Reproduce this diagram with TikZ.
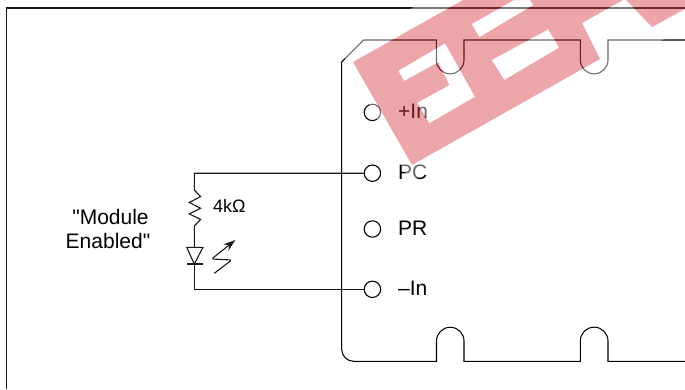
\documentclass[tikz,border=0pt]{standalone}
\usepackage{fontspec}
\setmainfont{Liberation Sans}[Ligatures=TeXOff]
\usetikzlibrary{arrows.meta}
\definecolor{wm}{RGB}{215,58,67}
\tikzset{
  x=1pt,y=-1pt,
  frameline/.style={line width=1.4pt,black!90},
  outline/.style={line width=1.05pt,black},
  wire/.style={line width=1.1pt,black!90},
  pin/.style={circle,draw,line width=1.1pt,minimum size=16.4pt,inner sep=0pt},
  lbl/.style={font=\fontsize{21}{25}\selectfont,inner sep=0pt,anchor=base west,text=black},
  captext/.style={font=\fontsize{21}{24}\selectfont,inner sep=0pt,align=center,text=black},
}
\begin{document}
\begin{tikzpicture}
\useasboundingbox (0,0) rectangle (685,389);
\fill[white] (0,0) rectangle (685,389);
\begin{scope}
\clip (0,0) rectangle (685,389);
% outer frame
\draw[frameline] (6.3,389) -- (6.3,8) -- (685,8);
% module outline
\draw[outline] (685,40) -- (608,40) -- (608,60) arc[start angle=0,end angle=180,radius=13.85] -- (580.3,40)
  -- (464,40) -- (464,60) arc[start angle=0,end angle=180,radius=13.85] -- (436.3,40)
  -- (363.5,40) -- (341.7,62) -- (341.7,349.3) arc[start angle=180,end angle=90,radius=12] -- (436.5,361.3)
  -- (436.5,341) arc[start angle=180,end angle=360,radius=13.75] -- (464,361.3)
  -- (580.3,361.3) -- (580.3,341) arc[start angle=180,end angle=360,radius=13.85] -- (608,361.3) -- (685,361.3);
% pins
\node[pin] (pinA) at (372.4,112.4) {};
\node[pin] (pinB) at (372.4,173.2) {};
\node[pin] (pinC) at (372.4,229) {};
\node[pin] (pinD) at (372.4,289.3) {};
\node[lbl] (lblA) at (398,118.5) {+In};
\node[lbl] (lblB) at (398,179.5) {PC};
\node[lbl] (lblC) at (398,235.5) {PR};
\node[lbl] (lblD) at (398,295.5) {–In};
% circuit
\coordinate (topc) at (194.3,173.2);
\coordinate (botc) at (194.3,289.3);
\coordinate (resT) at (194.3,190);
\coordinate (resB) at (194.3,226);
\coordinate (ledT) at (194.3,247.3);
\coordinate (ledB) at (194.3,264);
\draw[wire] (pinB) -- (topc) -- (resT)
  -- ++(6.3,6.5) -- ++(-11.3,6) -- ++(11.3,5.7) -- ++(-11.3,5.7) -- ++(11.3,5.6) -- (resB) -- (ledT);
\draw[wire] (pinD) -- (botc) -- (ledB);
\draw[wire,line join=miter] (186.7,247.3) -- (203,247.3) -- (ledB) -- cycle;
\draw[wire] (186.7,264) -- (203,264);
\draw[wire,rounded corners=1.5pt,-{Stealth[length=12pt,width=8pt]}] (214.3,273.3) -- (231.7,260) -- (211.7,259) -- (235.3,240);
\node[font=\fontsize{18}{20}\selectfont,inner sep=0pt,anchor=base west] (resv) at (213,212) {4kΩ};
\node[captext] (capt) at (110.5,229.3) {"Module\\\mbox{Enabled"\kern5pt}};
% translucent white halo (only outside the red shape) and watermark
\fill[white,fill opacity=0.42,even odd rule]
  (340,48.6) -- (412,8) -- (440,-8) -- (730,-8) -- (730,15) -- (662,40) -- (410,182) -- cycle
  (353,62) -- (463,0) -- (623,0) -- (582,23) -- (600,59) -- (412,165) -- cycle
  (398.3,70.7) -- (445,43.3) -- (475,96.7) -- (429.3,123.3) -- (417.3,102.7) -- (449.3,85) -- (438.3,62.3) -- (404,81) -- cycle
  (471.7,24) -- (514,0) -- (530,0) -- (533.3,5) -- (479.3,37.3) -- cycle
  (491.7,60) -- (548.3,29.3) -- (559,47.7) -- (504.3,80) -- cycle
  (626,0) -- (652,27) -- (685,9) -- (685,0) -- cycle;
\fill[wm,fill opacity=0.45,even odd rule]
  (353,62) -- (463,0) -- (623,0) -- (582,23) -- (600,59) -- (412,165) -- cycle
  (398.3,70.7) -- (445,43.3) -- (475,96.7) -- (429.3,123.3) -- (417.3,102.7) -- (449.3,85) -- (438.3,62.3) -- (404,81) -- cycle
  (471.7,24) -- (514,0) -- (530,0) -- (533.3,5) -- (479.3,37.3) -- cycle
  (491.7,60) -- (548.3,29.3) -- (559,47.7) -- (504.3,80) -- cycle;
\fill[wm,fill opacity=0.45] (626,0) -- (652,27) -- (685,9) -- (685,0) -- cycle;
\end{scope}
\end{tikzpicture}
\end{document}
